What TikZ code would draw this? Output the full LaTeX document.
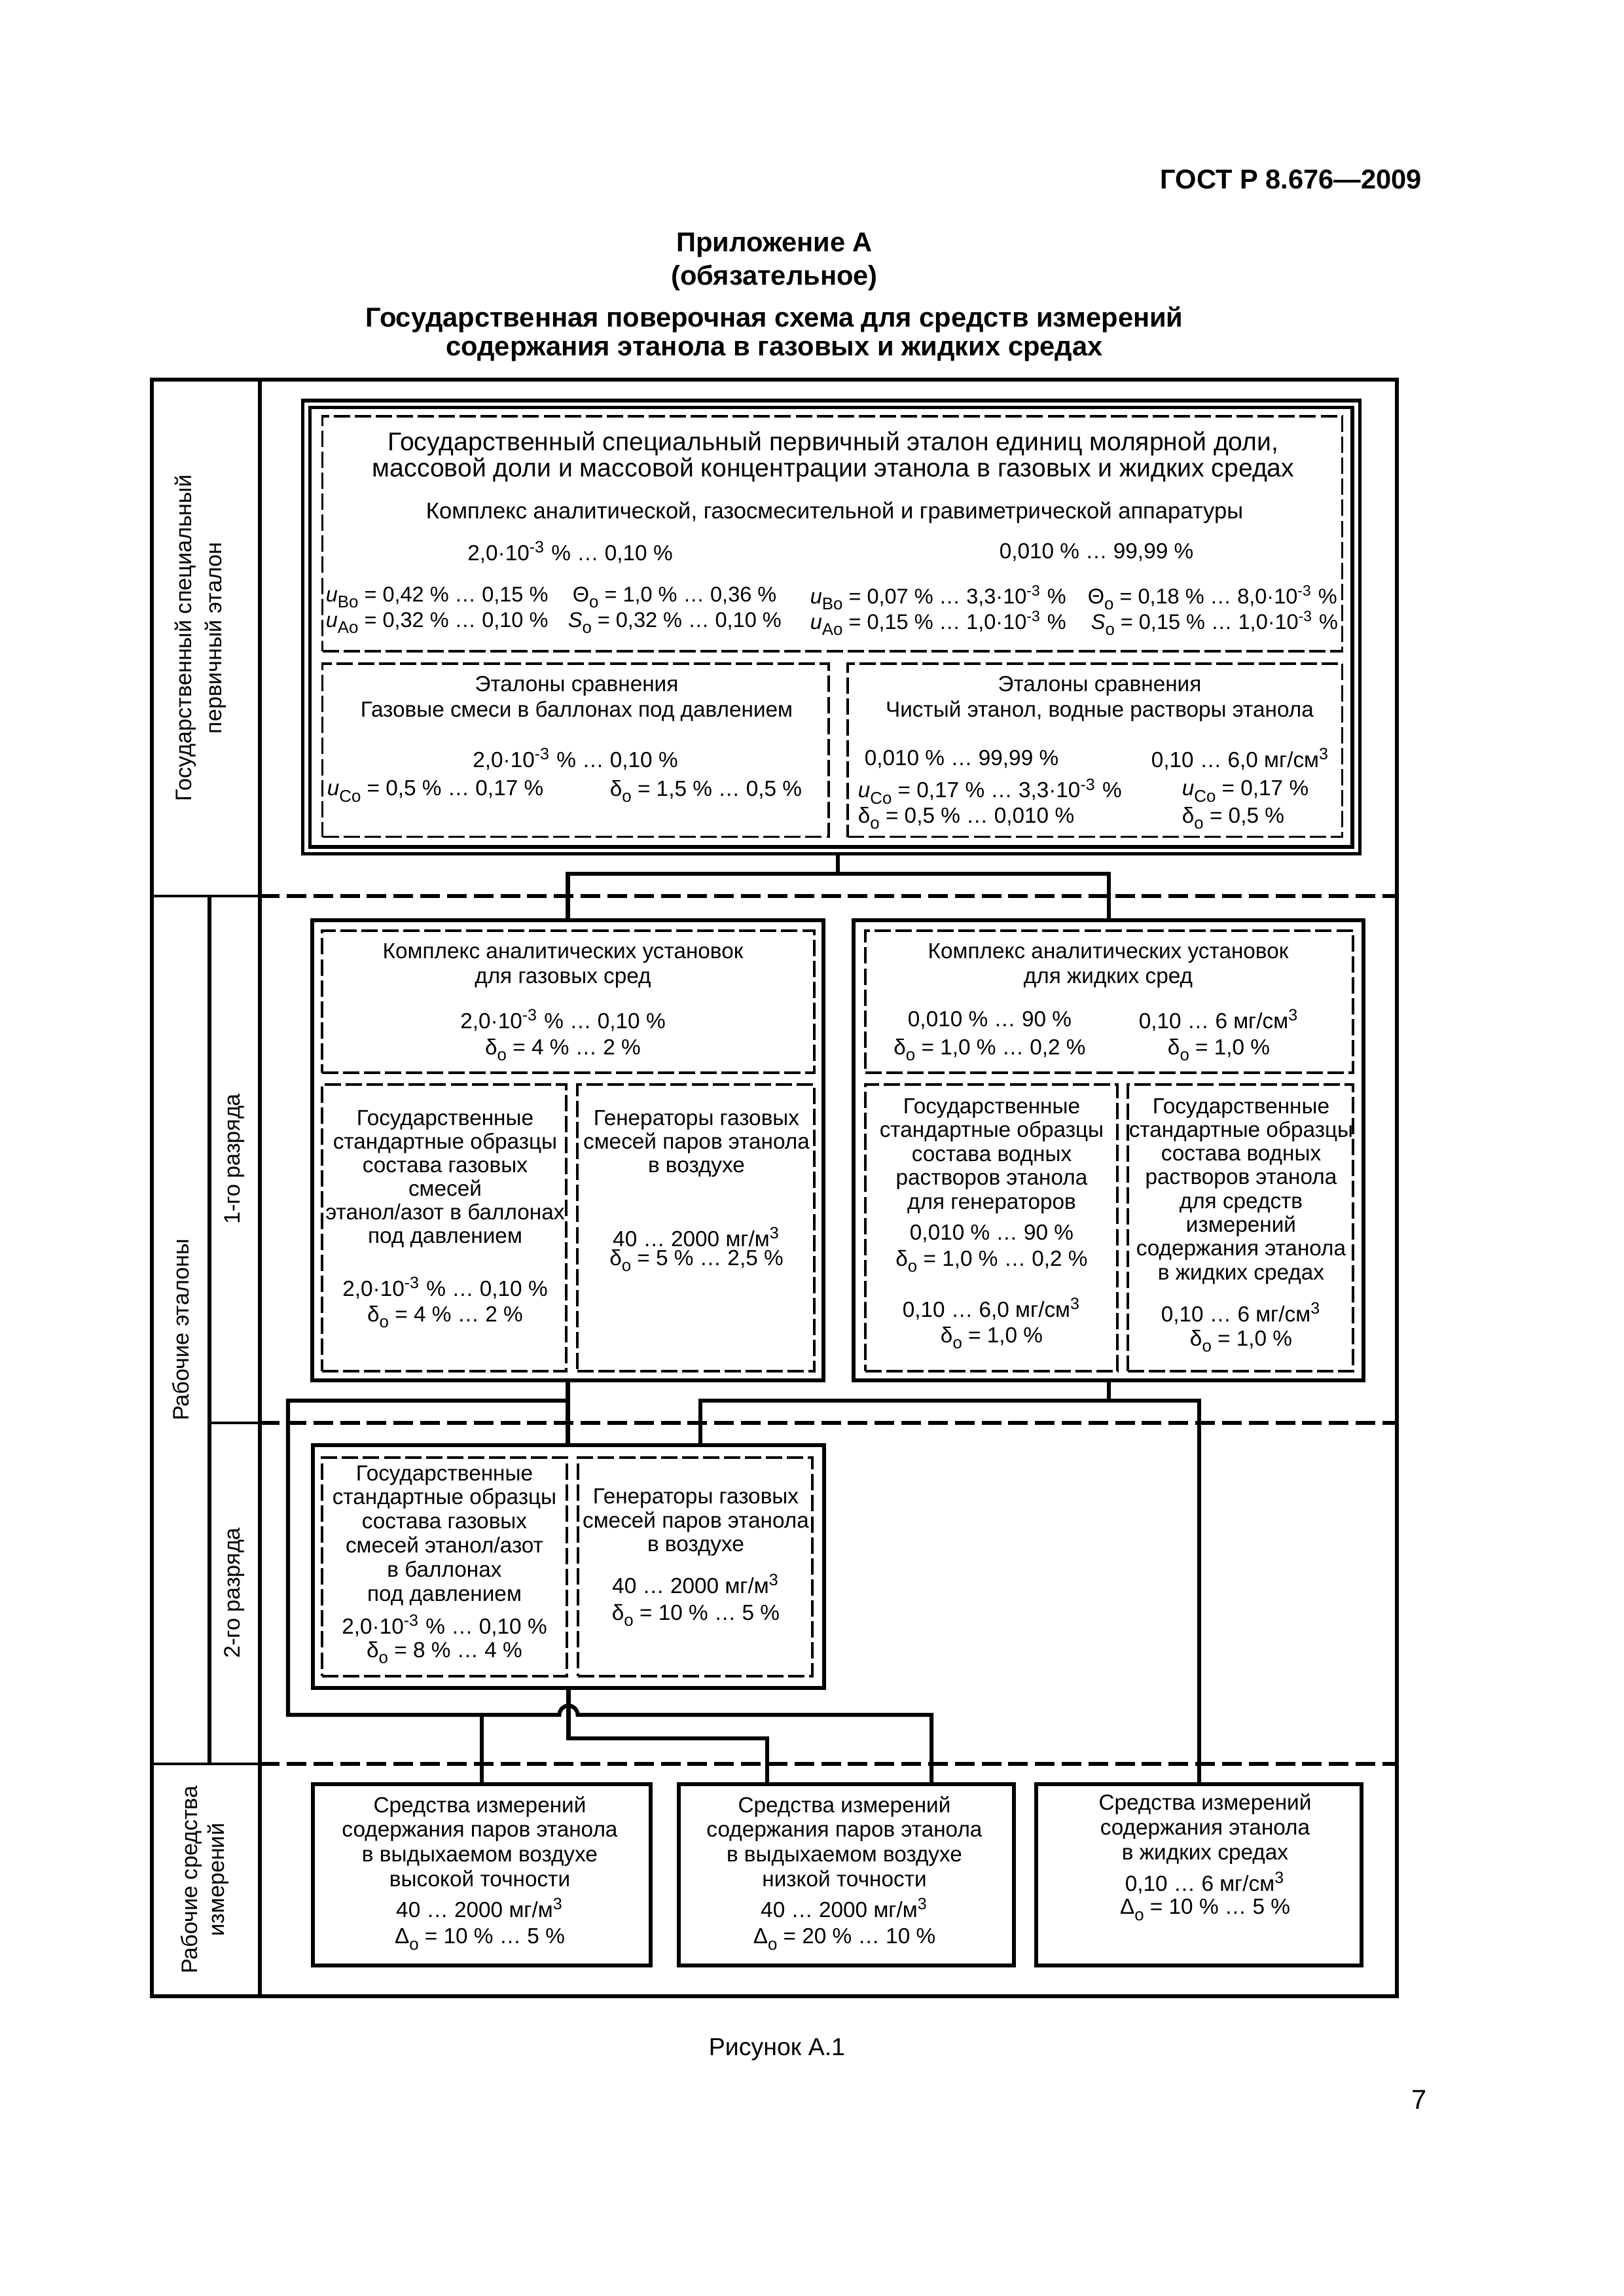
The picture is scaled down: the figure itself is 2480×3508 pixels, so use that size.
\documentclass[tikz,border=0pt]{standalone}
\usepackage{fontspec}
\setmainfont{Liberation Sans}
\newcommand{\myhi}[1]{\textsuperscript{#1}}
\newcommand{\mylo}[1]{\raisebox{-0.28em}{\fontsize{6.2}{7}\selectfont #1}}
\newcommand{\rectnode}[6]{\node[#1, minimum width={(#5-#3)*0.24pt}, minimum height={(#6-#4)*0.24pt}] (#2) at ({(#3+#5)/2},{(#4+#6)/2}) {};}
\begin{document}
\begin{tikzpicture}[x=0.24pt,y=-0.24pt,
 frame/.style={line width=1.5pt},
 thinline/.style={line width=0.9pt},
 sepline/.style={line width=1.45pt,dash pattern=on 7.2pt off 2.6pt},
 sbox/.style={draw,rectangle,line width=1.45pt,inner sep=0pt,outer sep=0pt},
 pbox/.style={draw,rectangle,line width=1.25pt,inner sep=0pt,outer sep=0pt},
 dbox/.style={draw,rectangle,line width=0.75pt,dash pattern=on 6pt off 1.7pt,inner sep=0pt,outer sep=0pt},
 conn/.style={line width=1.45pt},
 tt/.style={inner sep=0pt,align=center,font=\fontsize{8}{9}\selectfont},
 tw/.style={tt,anchor=west},
 rw/.style={inner sep=0pt,anchor=west,font=\fontsize{7.8}{9}\selectfont},
 hd/.style={inner sep=0pt,font=\fontsize{10}{12}\selectfont\bfseries},
 lab/.style={inner sep=0pt,align=center,rotate=90,font=\fontsize{8.2}{11}\selectfont},
]
\useasboundingbox (0,0) rectangle (2480,3508);

% ---------- header
\node[hd,anchor=east] (gost) at (2173,274) {ГОСТ Р 8.676—2009};
\node[hd] (h1) at (1183,375) {Приложение А};
\node[hd] (h2) at (1183,425) {(обязательное)};
\node[hd] (h3) at (1183,488) {Государственная поверочная схема для средств измерений};
\node[hd] (h4) at (1183,537) {содержания этанола в газовых и жидких средах};

% ---------- frame
\draw[frame] (232,580) rectangle (2134,3050);
\draw[frame] (397,580) -- (397,3050);
\draw[frame] (320,1369) -- (320,2695);
\draw[thinline] (232,1369) -- (397,1369);
\draw[thinline] (232,2695) -- (397,2695);
\draw[thinline] (320,2174) -- (397,2174);
\draw[sepline] (397,1369) -- (2134,1369);
\draw[sepline] (397,2174) -- (2134,2174);
\draw[sepline] (397,2695) -- (2134,2695);

% ---------- left labels
\node[lab] (l1) at (306,975) {Государственный специальный\\первичный эталон};
\node[lab] (l2) at (276,2032) {Рабочие эталоны};
\node[lab] (l3) at (358,1771) {1-го разряда};
\node[lab] (l4) at (358,2434) {2-го разряда};
\node[lab,font=\fontsize{8.2}{10}\selectfont] (l5) at (313,2872) {Рабочие средства\\измерений};

% ---------- boxes
\rectnode{pbox}{prim}{462.5}{612}{2077.5}{1304.5}
\rectnode{pbox}{primin}{473.5}{622.5}{2066}{1294}
\rectnode{dbox}{pd1}{492.5}{636}{2050.5}{995}
\rectnode{dbox}{pd2}{492.5}{1014}{1266}{1278.5}
\rectnode{dbox}{pd3}{1295}{1014}{2050.5}{1278.5}

\rectnode{sbox}{ra}{477}{1406}{1258}{2109}
\rectnode{dbox}{ra1}{492}{1422}{1244}{1639}
\rectnode{dbox}{ra2}{492}{1657}{865}{2095}
\rectnode{dbox}{ra3}{882}{1657}{1244}{2095}

\rectnode{sbox}{rb}{1304}{1406}{2083}{2109}
\rectnode{dbox}{rb1}{1322}{1422}{2067}{1639}
\rectnode{dbox}{rb2}{1322}{1657}{1707}{2095}
\rectnode{dbox}{rb3}{1723}{1657}{2067}{2095}

\rectnode{sbox}{rc}{478}{2208}{1259}{2579}
\rectnode{dbox}{rc1}{492}{2227}{866}{2561}
\rectnode{dbox}{rc2}{883}{2227}{1241}{2561}

\rectnode{sbox}{m1}{478}{2726}{994}{3003}
\rectnode{sbox}{m2}{1037}{2726}{1549}{3003}
\rectnode{sbox}{m3}{1583}{2726}{2080}{3003}

% ---------- connectors
\coordinate (c0) at (1280,1335);
\draw[conn] (prim.south -| c0) -- (c0);
\draw[conn] (ra.north) |- (c0) -| (rb.north);

\coordinate (c1) at (440,2140);
\coordinate (c2) at (440,2620);
\coordinate (c3) at (1423,2620);
\coordinate (hop) at (868.5,2620);
\draw[conn] (ra.south) -- (ra.south |- rc.north);
\draw[conn] (ra.south |- c1) -- (c1) -- (c2) -- ([xshift=-3.36pt]hop) arc[start angle=180,end angle=360,radius=14] -- (c3) -- (c3 |- m2.north);
\draw[conn] (m1.north |- c2) -- (m1.north);

\coordinate (c4) at (1070,2140);
\coordinate (c5) at (1831.5,2140);
\draw[conn] (rb.south) -- (rb.south |- c4);
\draw[conn] (c4 |- rc.north) -- (c4) -- (c5) -- (m3.north);

\coordinate (c6) at (1172,2656);
\draw[conn] (rc.south) -- (rc.south |- c6) -- (c6) -- (c6 |- m2.north);

% ---------- primary standard texts
\node[tt,font=\fontsize{9.4}{11}\selectfont] (p1) at (1273,678) {Государственный специальный первичный эталон единиц молярной доли,};
\node[tt,font=\fontsize{9.4}{11}\selectfont] (p2) at (1273,718) {массовой доли и массовой концентрации этанола в газовых и жидких средах};
\node[tt,font=\fontsize{8.3}{9}\selectfont] (p3) at (1275,783) {Комплекс аналитической, газосмесительной и гравиметрической аппаратуры};
\node[tt] (p4) at (871,844) {2,0·10\myhi{-3} \% … 0,10 \%};
\node[tt] (p5) at (1675,844) {0,010 \% … 99,99 \%};
\node[rw] (p6) at (497,913) {\textit{u}\mylo{Bo} = 0,42 \% … 0,15 \%};
\node[rw] (p7) at (874,913) {Θ\mylo{o} = 1,0 \% … 0,36 \%};
\node[rw] (p8) at (1237,913) {\textit{u}\mylo{Bo} = 0,07 \% … 3,3·10\myhi{-3} \%};
\node[rw] (p9) at (1661,913) {Θ\mylo{o} = 0,18 \% … 8,0·10\myhi{-3} \%};
\node[rw] (p10) at (497,952) {\textit{u}\mylo{Ao} = 0,32 \% … 0,10 \%};
\node[rw] (p11) at (867,952) {\textit{S}\mylo{o} = 0,32 \% … 0,10 \%};
\node[rw] (p12) at (1237,952) {\textit{u}\mylo{Ao} = 0,15 \% … 1,0·10\myhi{-3} \%};
\node[rw] (p13) at (1666,952) {\textit{S}\mylo{o} = 0,15 \% … 1,0·10\myhi{-3} \%};

\node[tt] (e1) at (881,1048) {Эталоны сравнения};
\node[tt] (e2) at (881,1087) {Газовые смеси в баллонах под давлением};
\node[tt] (e3) at (879,1160) {2,0·10\myhi{-3} \% … 0,10 \%};
\node[tw] (e4) at (499,1209) {\textit{u}\mylo{Co} = 0,5 \% … 0,17 \%};
\node[tw] (e5) at (931,1209) {δ\mylo{o} = 1,5 \% … 0,5 \%};

\node[tt] (f1) at (1680,1048) {Эталоны сравнения};
\node[tt] (f2) at (1680,1087) {Чистый этанол, водные растворы этанола};
\node[tt] (f3) at (1469,1160) {0,010 \% … 99,99 \%};
\node[tt] (f4) at (1895,1160) {0,10 … 6,0 мг/см\myhi{3}};
\node[tw] (f5) at (1310,1209) {\textit{u}\mylo{Co} = 0,17 \% … 3,3·10\myhi{-3} \%};
\node[tw] (f6) at (1805,1209) {\textit{u}\mylo{Co} = 0,17 \%};
\node[tw] (f7) at (1310,1250) {δ\mylo{o} = 0,5 \% … 0,010 \%};
\node[tw] (f8) at (1805,1250) {δ\mylo{o} = 0,5 \%};

% ---------- 1st rank, gases
\node[tt,font=\fontsize{8}{8.9}\selectfont] (g1) at (860,1475.5) {Комплекс аналитических установок\\для газовых сред};
\node[tt] (g2) at (860,1559) {2,0·10\myhi{-3} \% … 0,10 \%};
\node[tt] (g3) at (860,1604) {δ\mylo{o} = 4 \% … 2 \%};
\node[tt,font=\fontsize{8}{8.64}\selectfont] (g4) at (680,1801) {Государственные\\стандартные образцы\\состава газовых\\смесей\\этанол/азот в баллонах\\под давлением};
\node[tt] (g5) at (680,1968) {2,0·10\myhi{-3} \% … 0,10 \%};
\node[tt] (g6) at (680,2012) {δ\mylo{o} = 4 \% … 2 \%};
\node[tt,font=\fontsize{8}{8.64}\selectfont] (g7) at (1064,1747) {Генераторы газовых\\смесей паров этанола\\в воздухе};
\node[tt] (g8) at (1064,1890) {40 … 2000 мг/м\myhi{3}};
\node[tt] (g9) at (1064,1926) {δ\mylo{o} = 5 \% … 2,5 \%};

% ---------- 1st rank, liquids
\node[tt,font=\fontsize{8}{8.9}\selectfont] (k1) at (1693,1475.5) {Комплекс аналитических установок\\для жидких сред};
\node[tt] (k2) at (1512,1559) {0,010 \% … 90 \%};
\node[tt] (k3) at (1512,1604) {δ\mylo{o} = 1,0 \% … 0,2 \%};
\node[tt] (k4) at (1862,1559) {0,10 … 6 мг/см\myhi{3}};
\node[tt] (k5) at (1862,1604) {δ\mylo{o} = 1,0 \%};
\node[tt,font=\fontsize{8}{8.76}\selectfont] (k6) at (1515,1766) {Государственные\\стандартные образцы\\состава водных\\растворов этанола\\для генераторов};
\node[tt] (k7) at (1515,1885) {0,010 \% … 90 \%};
\node[tt] (k8) at (1515,1927) {δ\mylo{o} = 1,0 \% … 0,2 \%};
\node[tt] (k9) at (1515,2000) {0,10 … 6,0 мг/см\myhi{3}};
\node[tt] (k10) at (1515,2044) {δ\mylo{o} = 1,0 \%};
\node[tt,font=\fontsize{8}{8.71}\selectfont] (k11) at (1896,1820) {Государственные\\стандартные образцы\\состава водных\\растворов этанола\\для средств\\измерений\\содержания этанола\\в жидких средах};
\node[tt] (k12) at (1896,2007) {0,10 … 6 мг/см\myhi{3}};
\node[tt] (k13) at (1896,2049) {δ\mylo{o} = 1,0 \%};

% ---------- 2nd rank
\node[tt,font=\fontsize{8}{8.83}\selectfont] (q1) at (679,2346) {Государственные\\стандартные образцы\\состава газовых\\смесей этанол/азот\\в баллонах\\под давлением};
\node[tt] (q2) at (679,2484) {2,0·10\myhi{-3} \% … 0,10 \%};
\node[tt] (q3) at (679,2525) {δ\mylo{o} = 8 \% … 4 \%};
\node[tt,font=\fontsize{8}{8.83}\selectfont] (q4) at (1063,2326) {Генераторы газовых\\смесей паров этанола\\в воздухе};
\node[tt] (q5) at (1063,2420) {40 … 2000 мг/м\myhi{3}};
\node[tt] (q6) at (1063,2468) {δ\mylo{o} = 10 \% … 5 \%};

% ---------- working measuring instruments
\node[tt,font=\fontsize{8}{9.05}\selectfont] (s1) at (733,2813.5) {Средства измерений\\содержания паров этанола\\в выдыхаемом воздухе\\высокой точности};
\node[tt] (s2) at (733,2915) {40 … 2000 мг/м\myhi{3}};
\node[tt] (s3) at (733,2963) {Δ\mylo{o} = 10 \% … 5 \%};
\node[tt,font=\fontsize{8}{9.05}\selectfont] (s4) at (1290,2813.5) {Средства измерений\\содержания паров этанола\\в выдыхаемом воздухе\\низкой точности};
\node[tt] (s5) at (1290,2915) {40 … 2000 мг/м\myhi{3}};
\node[tt] (s6) at (1290,2963) {Δ\mylo{o} = 20 \% … 10 \%};
\node[tt,font=\fontsize{8}{9.05}\selectfont] (s7) at (1841,2794.5) {Средства измерений\\содержания этанола\\в жидких средах};
\node[tt] (s8) at (1841,2877) {0,10 … 6 мг/см\myhi{3}};
\node[tt] (s9) at (1841,2918) {Δ\mylo{o} = 10 \% … 5 \%};

% ---------- footer
\node[tt,font=\fontsize{9}{11}\selectfont] (fig) at (1187,3131) {Рисунок А.1};
\node[tt,font=\fontsize{10}{12}\selectfont] (pg) at (2168,3208) {7};
\end{tikzpicture}
\end{document}
